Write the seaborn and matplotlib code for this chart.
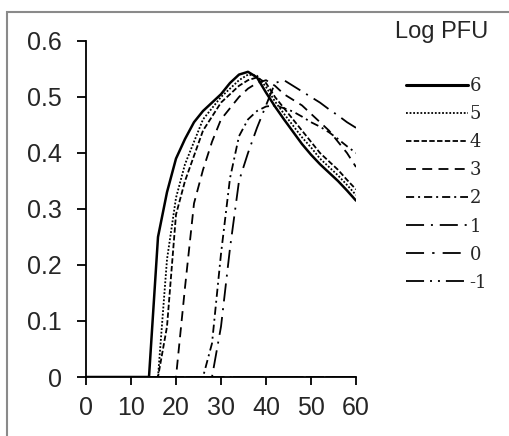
import pandas as pd
import matplotlib.pyplot as plt
from matplotlib.patches import Rectangle
from matplotlib.ticker import FuncFormatter
import seaborn as sns

# Growth curves (OD) after infection at different phage doses
minutes = [0, 2, 4, 6, 8, 10, 12, 14, 16, 18, 20, 22, 24, 26, 28, 30,
           32, 34, 36, 38, 40, 42, 44, 46, 48, 50, 52, 54, 56, 58, 60]

od_6 = [0, 0, 0, 0, 0, 0, 0, 0, 0.25, 0.33, 0.39, 0.425, 0.455, 0.475, 0.49, 0.505,
        0.525, 0.54, 0.545, 0.535, 0.508, 0.483, 0.46, 0.438, 0.416, 0.397, 0.38, 0.365, 0.35, 0.333, 0.315]
od_5 = [0, 0, 0, 0, 0, 0, 0, 0, 0, 0.21, 0.32, 0.38, 0.42, 0.46, 0.48, 0.50,
        0.515, 0.53, 0.54, 0.538, 0.518, 0.492, 0.47, 0.449, 0.428, 0.41, 0.39, 0.375, 0.36, 0.343, 0.325]
od_4 = [0, 0, 0, 0, 0, 0, 0, 0, 0, 0.09, 0.29, 0.35, 0.395, 0.44, 0.465, 0.49,
        0.505, 0.52, 0.53, 0.535, 0.525, 0.50, 0.48, 0.46, 0.44, 0.42, 0.40, 0.385, 0.37, 0.352, 0.335]
od_3 = [0, 0, 0, 0, 0, 0, 0, 0, 0, 0, 0, 0.16, 0.31, 0.37, 0.42, 0.46,
        0.48, 0.50, 0.515, 0.525, 0.53, 0.52, 0.505, 0.495, 0.485, 0.47, 0.455, 0.44, 0.42, 0.40, 0.375]
od_2 = [0, 0, 0, 0, 0, 0, 0, 0, 0, 0, 0, 0, 0, 0, 0.06, 0.22,
        0.355, 0.43, 0.46, 0.475, 0.483, 0.485, 0.48, 0.474, 0.465, 0.455, 0.447, 0.437, 0.425, 0.412, 0.40]
od_1 = [0, 0, 0, 0, 0, 0, 0, 0, 0, 0, 0, 0, 0, 0, 0, 0.09,
        0.23, 0.35, 0.40, 0.445, 0.485, 0.525, 0.53, 0.52, 0.51, 0.50, 0.49, 0.478, 0.467, 0.455, 0.445]
od_0 = [0, 0, 0, 0, 0, 0, 0, 0, 0, 0, 0, 0, 0, 0, 0, 0,
        0, 0, 0, 0, 0, 0, 0, 0, 0, 0, 0, 0, 0, 0, 0]
od_m1 = [0, 0, 0, 0, 0, 0, 0, 0, 0, 0, 0, 0, 0, 0, 0, 0,
         0, 0, 0, 0, 0, 0, 0, 0, 0, 0, 0, 0, 0, 0, 0]

pfu_levels = ["6", "5", "4", "3", "2", "1", "0", "-1"]
series = [od_6, od_5, od_4, od_3, od_2, od_1, od_0, od_m1]

df = pd.concat(
    [pd.DataFrame({"minutes": minutes, "od": vals, "pfu": lvl}) for lvl, vals in zip(pfu_levels, series)],
    ignore_index=True,
)

dash_styles = {
    "6": "",
    "5": (1, 1),
    "4": (3, 1.3),
    "3": (5.5, 3.5),
    "2": (4.5, 2.2, 1.1, 2.2),
    "1": (10, 3.8, 1.1, 3.8),
    "0": (10, 4.5, 1.3, 4.5),
    "-1": (10, 3.3, 1.1, 3.3, 1.1, 3.3),
}

sns.set_style("ticks")
plt.rcParams["font.family"] = ["Liberation Sans", "DejaVu Sans"]

fig = plt.figure(figsize=(5.09, 4.36), dpi=100)
ax = fig.add_axes([86 / 509, 1 - 377 / 436, 270 / 509, 336 / 436])

sns.lineplot(data=df, x="minutes", y="od", hue="pfu", style="pfu", hue_order=pfu_levels,
             style_order=pfu_levels, palette={l: "black" for l in pfu_levels},
             dashes=dash_styles, linewidth=1.3, ax=ax)

ax.lines[0].set_linewidth(1.8)

ax.set_xlim(0, 60)
ax.set_ylim(0, 0.6)
ax.set_xticks(range(0, 61, 10))
ax.set_yticks([0, 0.1, 0.2, 0.3, 0.4, 0.5, 0.6])
ax.yaxis.set_major_formatter(FuncFormatter(lambda v, p: f"{v:g}"))
ax.set_xlabel("")
ax.set_ylabel("")
sns.despine(ax=ax)
for side in ["left", "bottom"]:
    ax.spines[side].set_linewidth(1.3)
    ax.spines[side].set_color("black")
ax.tick_params(axis="both", labelsize=18, width=1.3, color="black")
ax.tick_params(axis="y", length=6.5, pad=11)
ax.tick_params(axis="x", length=6, pad=8)

handles, labels = ax.get_legend_handles_labels()
handles[0].set_linewidth(2.2)
ax.legend(handles, labels, loc="upper right", bbox_to_anchor=(496 / 509, 1 - 68 / 436),
          bbox_transform=fig.transFigure, frameon=False, borderpad=0, handlelength=3.4,
          handletextpad=0.1, labelspacing=0.56,
          prop={"family": "DejaVu Serif", "size": 13})
fig.text(488 / 509, 1 - 32 / 436, "Log PFU", ha="right", va="center", fontsize=17)

# grey frame around the figure (only top and left visible in the original)
fig.patches.append(Rectangle((7 / 509, -0.5), 2, 0.5 + 1 - 12 / 436, transform=fig.transFigure,
                             fill=False, edgecolor="#8a8a8a", linewidth=1.5))

fig.savefig("out.png", dpi=100)
